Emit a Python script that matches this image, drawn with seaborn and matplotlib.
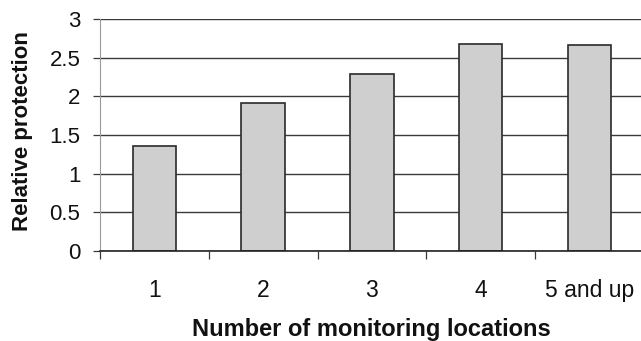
import matplotlib
matplotlib.use("Agg")
import matplotlib.pyplot as plt
from matplotlib.ticker import FixedLocator
import seaborn as sns

# Number of monitoring locations vs. relative protection
locations = ["1", "2", "3", "4", "5 and up"]
protection = [1.36, 1.91, 2.29, 2.68, 2.67]
y_ticks = [0, 0.5, 1, 1.5, 2, 2.5, 3]
y_tick_labels = ["0", "0.5", "1", "1.5", "2", "2.5", "3"]

sns.set_theme(style="white")
plt.rcParams["font.family"] = ["Liberation Sans", "DejaVu Sans"]

W, H = 641, 341
fig = plt.figure(figsize=(W / 100, H / 100), dpi=100)
ax_left, ax_right, ax_top, ax_bottom = 100, 643.75, 19, 251
ax = fig.add_axes([ax_left / W, (H - ax_bottom) / H,
                   (ax_right - ax_left) / W, (ax_bottom - ax_top) / H])

sns.barplot(x=locations, y=protection, color="#cfcfcf", saturation=1,
            width=0.4, edgecolor="#2a2a2a", linewidth=1.2, ax=ax, zorder=3)

ax.set_xlim(-0.5, len(locations) - 0.5)
ax.set_ylim(0, 3)

# horizontal gridlines
ax.set_yticks(y_ticks)
ax.set_yticklabels(y_tick_labels)
ax.yaxis.grid(True, color="#3a3a3a", linewidth=1.0)
ax.xaxis.grid(False)
ax.set_axisbelow(True)

# y ticks: outward marks, labels at the left
ax.tick_params(axis="y", which="major", direction="out", length=5.2,
               width=0.9, color="#3a3a3a", pad=9.0, labelsize=16,
               labelcolor="#111111", left=True)

# x: category labels centred, small marks at category boundaries
ax.tick_params(axis="x", which="major", length=0, pad=20.5, labelsize=16.5,
               labelcolor="#111111")
ax.xaxis.set_minor_locator(FixedLocator([i - 0.5 for i in range(len(locations) + 1)]))
ax.tick_params(axis="x", which="minor", direction="out", length=6,
               width=0.9, color="#3a3a3a", bottom=True)

for side in ("top", "right"):
    ax.spines[side].set_visible(False)
ax.spines["left"].set_color("#9a9a9a")
ax.spines["left"].set_linewidth(0.8)
ax.spines["bottom"].set_color("#222222")
ax.spines["bottom"].set_linewidth(1.2)
ax.spines["bottom"].set_zorder(4)

ax.set_xlabel("Number of monitoring locations", fontsize=17,
              fontweight="bold", color="#111111", va="baseline")
ax.xaxis.set_label_coords((371 - ax_left) / (ax_right - ax_left),
                          (ax_bottom - 336) / (ax_bottom - ax_top))
ax.set_ylabel("Relative protection", fontsize=16, fontweight="bold",
              color="#111111", va="center")
ax.yaxis.set_label_coords((22.5 - ax_left) / (ax_right - ax_left), 0.517)

fig.savefig("out.png", dpi=100, facecolor="white")
